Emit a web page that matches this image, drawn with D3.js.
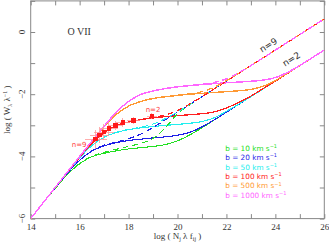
<!DOCTYPE html>
<html>
<head>
<meta charset="utf-8">
<script src="https://cdn.jsdelivr.net/npm/d3@7"></script>
<style>
  html, body { margin: 0; padding: 0; background: #fff; }
  svg { display: block; }
  text { font-family: "DejaVu Sans", sans-serif; fill: #333; }
  .serif, .tick text { font-family: "Liberation Serif", serif; }
</style>
</head>
<body>
<div id="chart"></div>
<script>
// log(N lambda f) sample grid shared by every curve
const logN = [14, 15, 15.5, 16, 16.5, 17, 17.5, 18, 18.5, 19, 19.5, 20, 20.5, 21, 21.5, 22, 22.5, 23, 23.5, 24, 24.5, 25, 25.5, 26];

// solid curves (join the n=2 damping line)
const b10n2   = [-6.0, -5.03, -4.58, -4.235, -4.01, -3.90, -3.82, -3.76, -3.72, -3.68, -3.62, -3.50, -3.31, -3.08, -2.83, -2.58, -2.33, -2.08, -1.83, -1.58, -1.33, -1.08, -0.83, -0.58];
const b20n2   = [-6.0, -5.013, -4.542, -4.123, -3.829, -3.66, -3.556, -3.49, -3.446, -3.405, -3.371, -3.32, -3.226, -3.05, -2.824, -2.578, -2.33, -2.08, -1.83, -1.58, -1.33, -1.08, -0.83, -0.58];
const b50n2   = [-6.0, -5.005, -4.516, -4.05, -3.652, -3.384, -3.234, -3.139, -3.083, -3.039, -3.002, -2.971, -2.935, -2.878, -2.76, -2.55, -2.32, -2.08, -1.83, -1.58, -1.33, -1.08, -0.83, -0.58];
const b100n2  = [-6.0, -5.003, -4.509, -4.028, -3.578, -3.235, -3.01, -2.897, -2.82, -2.764, -2.723, -2.69, -2.66, -2.627, -2.57, -2.44, -2.27, -2.06, -1.82, -1.58, -1.33, -1.08, -0.83, -0.58];
const b500n2  = [-6.0, -5.0, -4.502, -4.005, -3.516, -3.05, -2.652, -2.384, -2.234, -2.139, -2.083, -2.039, -2.002, -1.973, -1.944, -1.919, -1.89, -1.846, -1.743, -1.559, -1.325, -1.08, -0.83, -0.58];
const b1000n2 = [-6.0, -5.0, -4.501, -4.003, -3.509, -3.028, -2.578, -2.235, -2.01, -1.897, -1.82, -1.764, -1.723, -1.69, -1.66, -1.633, -1.61, -1.583, -1.548, -1.464, -1.30, -1.074, -0.829, -0.58];

// dashed curves (join the n=9 damping line)
const b10n9   = [-6.0, -5.03, -4.58, -4.23, -4.0, -3.87, -3.77, -3.68, -3.58, -3.42, -3.08, -2.63, -2.34, -2.08, -1.83, -1.58, -1.33, -1.08, -0.83, -0.58, -0.33, -0.08, 0.17, 0.42];
const b20n9   = [-6.0, -5.013, -4.542, -4.123, -3.82, -3.64, -3.54, -3.43, -3.28, -3.07, -2.825, -2.58, -2.33, -2.08, -1.83, -1.58, -1.33, -1.08, -0.83, -0.58, -0.33, -0.08, 0.17, 0.42];
const b50n9   = [-6.0, -5.005, -4.516, -4.05, -3.65, -3.38, -3.23, -3.133, -3.06, -2.96, -2.79, -2.57, -2.33, -2.08, -1.83, -1.58, -1.33, -1.08, -0.83, -0.58, -0.33, -0.08, 0.17, 0.42];
const b100n9  = [-6.0, -5.003, -4.509, -4.028, -3.578, -3.235, -3.01, -2.895, -2.815, -2.75, -2.667, -2.524, -2.316, -2.079, -1.83, -1.58, -1.33, -1.08, -0.83, -0.58, -0.33, -0.08, 0.17, 0.42];
const b500n9  = [-6.0, -5.0, -4.502, -4.005, -3.516, -3.05, -2.652, -2.384, -2.234, -2.135, -2.08, -2.035, -1.988, -1.917, -1.776, -1.567, -1.33, -1.08, -0.83, -0.58, -0.33, -0.08, 0.17, 0.42];
const b1000n9 = [-6.0, -5.0, -4.501, -4.003, -3.509, -3.028, -2.578, -2.235, -2.01, -1.897, -1.82, -1.763, -1.72, -1.681, -1.622, -1.504, -1.311, -1.078, -0.83, -0.58, -0.33, -0.08, 0.17, 0.42];

const bValues = ["10", "20", "50", "100", "500", "1000"];

// measured O VII series, n=9 ... n=2
const obsX    = [16.65, 16.82, 16.99, 17.2, 17.46, 17.77, 18.2, 18.95];
const obsY    = [-3.45, -3.32, -3.22, -3.1, -3.0, -2.91, -2.84, -2.71];
const obsXErr = [0.45, 0.4, 0.4, 0.35, 0.3, 0.3, 0.25, 0.2];
const obsYErr = [0.3, 0.25, 0.25, 0.2, 0.15, 0.15, 0.12, 0.1];

const xTicks = d3.range(14, 27, 1);
const yTicks = d3.range(-6, 2, 1);
const xLabels = [14, 16, 18, 20, 22, 24, 26];
const yLabels = [-6, -4, -2, 0];

const solid  = [b10n2, b20n2, b50n2, b100n2, b500n2, b1000n2];
const dashed = [b10n9, b20n9, b50n9, b100n9, b500n9, b1000n9];
const colors = ["#22e022", "#1f1fe8", "#22eeee", "#ff2020", "#ff9933", "#ff66ff"];
const widths = [1.1, 1.1, 1.15, 1.25, 1.35, 1.45];

const W = 329, H = 244;
const margin = { top: 0.9, right: 4.7, bottom: 25.4, left: 30.7 };
const width = W - margin.left - margin.right;
const height = H - margin.top - margin.bottom;

const svg = d3.select("#chart").append("svg")
    .attr("width", W)
    .attr("height", H);

const g = svg.append("g")
    .attr("transform", `translate(${margin.left},${margin.top})`);

const x = d3.scaleLinear().domain([14, 26]).range([0, width]);
const y = d3.scaleLinear().domain([-6, 1]).range([height, 0]);

svg.append("clipPath").attr("id", "plot-clip")
    .append("rect").attr("width", width).attr("height", height);

// inward ticks on all four sides
const tk = 4.5;
g.append("g").attr("transform", `translate(0,${height})`)
    .call(d3.axisBottom(x).tickValues(xTicks).tickSize(-tk).tickPadding(5)
        .tickFormat(d => xLabels.includes(d) ? d : ""));
g.append("g")
    .call(d3.axisTop(x).tickValues(xTicks).tickSize(-tk).tickFormat(""));
g.append("g")
    .call(d3.axisLeft(y).tickValues(yTicks).tickSize(-tk).tickFormat(""));
g.append("g").attr("transform", `translate(${width},0)`)
    .call(d3.axisRight(y).tickValues(yTicks).tickSize(-tk).tickFormat(""));

g.selectAll(".domain").remove();
g.selectAll(".tick line").attr("stroke", "#888");
g.selectAll(".tick text").style("font-size", "9px").attr("fill", "#333");

g.append("rect")
    .attr("width", width).attr("height", height)
    .attr("fill", "none").attr("stroke", "#888").attr("stroke-width", 1);

// rotated y tick labels
g.selectAll(".ylab")
    .data(yLabels)
    .join("text")
    .attr("class", "ylab serif")
    .attr("transform", d => `translate(-5.5,${y(d)}) rotate(-90)`)
    .attr("text-anchor", "middle")
    .style("font-size", "9px")
    .text(d => d < 0 ? "\u2212" + Math.abs(d) : d);

const line = d3.line()
    .x((d, i) => x(logN[i]))
    .y(d => y(d))
    .curve(d3.curveMonotoneX);

// aliased strokes so the last-drawn colour wins where curves coincide
const curves = g.append("g")
    .attr("clip-path", "url(#plot-clip)")
    .attr("shape-rendering", "crispEdges");

curves.selectAll(".cog-solid")
    .data(solid)
    .join("path")
    .attr("class", "cog-solid")
    .attr("d", line)
    .attr("fill", "none")
    .attr("stroke", (d, i) => colors[i])
    .attr("stroke-width", (d, i) => widths[i]);

curves.selectAll(".cog-dashed")
    .data(dashed)
    .join("path")
    .attr("class", "cog-dashed")
    .attr("d", line)
    .attr("fill", "none")
    .attr("stroke", (d, i) => colors[i])
    .attr("stroke-width", (d, i) => widths[i])
    .attr("stroke-dasharray", "6,4");

// error bars + measured points
const obs = obsX.map((v, i) => ({ x: v, y: obsY[i], ex: obsXErr[i], ey: obsYErr[i] }));
const errs = curves.append("g").attr("stroke", "#ff9a9a").attr("stroke-width", 0.8);
errs.selectAll(".xerr").data(obs).join("line")
    .attr("x1", d => x(d.x - d.ex)).attr("x2", d => x(d.x + d.ex))
    .attr("y1", d => y(d.y)).attr("y2", d => y(d.y));
errs.selectAll(".yerr").data(obs).join("line")
    .attr("x1", d => x(d.x)).attr("x2", d => x(d.x))
    .attr("y1", d => y(d.y - d.ey)).attr("y2", d => y(d.y + d.ey));
curves.selectAll(".obs").data(obs).join("rect")
    .attr("x", d => x(d.x) - 2.2).attr("y", d => y(d.y) - 2.2)
    .attr("width", 4.4).attr("height", 4.4)
    .attr("fill", "#ff1a1a");

// labels inside the plot
g.append("text").attr("class", "serif")
    .attr("x", x(15.98)).attr("y", y(0) + 3.5)
    .attr("text-anchor", "middle")
    .style("font-size", "10px")
    .text("O  VII");

g.append("text")
    .attr("x", x(15.98)).attr("y", y(-3.63) + 2.5)
    .attr("text-anchor", "middle")
    .style("font-size", "7px").style("fill", "#ff4040")
    .text("n=9");
g.append("text")
    .attr("x", x(19.0)).attr("y", y(-2.48) + 2.5)
    .attr("text-anchor", "middle")
    .style("font-size", "7px").style("fill", "#ff4040")
    .text("n=2");

const ang = -Math.atan(0.5 * (y(0) - y(1)) / (x(1) - x(0))) * 180 / Math.PI;
[["n=9", 23.71, -0.42], ["n=2", 24.65, -0.87]].forEach(([t, lx, ly]) => {
    g.append("text")
        .attr("transform", `translate(${x(lx)},${y(ly)}) rotate(${ang})`)
        .attr("text-anchor", "middle").attr("dy", "0.35em")
        .style("font-size", "9px")
        .text(t);
});

// legend
const legend = g.append("g").attr("transform", `translate(${x(21.95)},${y(-3.82)})`);
bValues.forEach((b, i) => {
    const t = legend.append("text")
        .attr("y", i * 9.4)
        .style("font-size", "7.3px")
        .style("fill", colors[i]);
    t.append("tspan").text(`b = ${b} km s`);
    t.append("tspan").attr("dy", -2.8).style("font-size", "5px").text("\u22121");
});

// axis titles
const xt = svg.append("text").attr("class", "serif")
    .attr("x", margin.left + width / 2).attr("y", 239)
    .attr("text-anchor", "middle")
    .style("font-size", "9px");
xt.append("tspan").text("log  ( N");
xt.append("tspan").attr("dy", 2).style("font-size", "6px").text("j");
xt.append("tspan").attr("dy", -2).text(" \u03bb f");
xt.append("tspan").attr("dy", 2).style("font-size", "6px").text("ij");
xt.append("tspan").attr("dy", -2).text(" )");

const yt = svg.append("text").attr("class", "serif")
    .attr("transform", `translate(10,${margin.top + height / 2}) rotate(-90)`)
    .attr("text-anchor", "middle")
    .style("font-size", "9px");
yt.append("tspan").text("log  ( W");
yt.append("tspan").attr("dy", 2).style("font-size", "6px").text("\u03bb");
yt.append("tspan").attr("dy", -2).text(" \u03bb");
yt.append("tspan").attr("dy", -3).style("font-size", "6px").text("\u22121");
yt.append("tspan").attr("dy", 3).text(" )");
</script>
</body>
</html>
